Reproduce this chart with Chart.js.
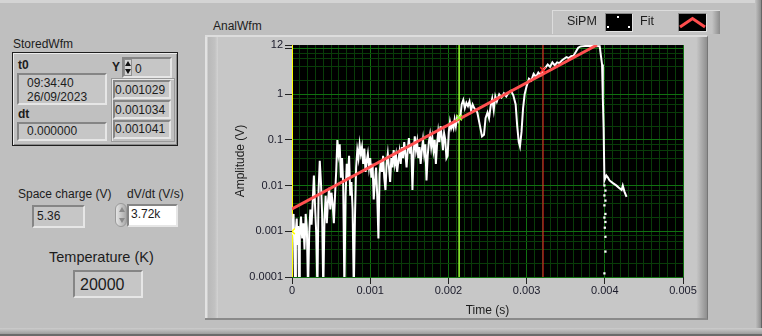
<!DOCTYPE html>
<html><head><meta charset="utf-8">
<script src="https://cdn.jsdelivr.net/npm/chart.js@4/dist/chart.umd.min.js"></script>
<style>
html,body{margin:0;padding:0;}
body{width:762px;height:336px;position:relative;overflow:hidden;background:#bfbfbf;font-family:"Liberation Sans",Arial,sans-serif;color:#1c1c1c;}
.a{position:absolute;box-sizing:border-box;}
.t{position:absolute;font-size:12px;line-height:1.15;white-space:nowrap;}
.b{font-weight:bold;}
.rec{position:absolute;box-sizing:border-box;border-top:2px solid #858585;border-left:2px solid #858585;border-bottom:2px solid #e6e6e6;border-right:2px solid #e6e6e6;background:#c6c6c6;}
.tri-up{width:0;height:0;border-left:3px solid transparent;border-right:3px solid transparent;border-bottom:5px solid #111;position:absolute;}
.tri-dn{width:0;height:0;border-left:3px solid transparent;border-right:3px solid transparent;border-top:5px solid #111;position:absolute;}
canvas{position:absolute;left:0;top:0;z-index:2;}
</style>
</head><body>
<!-- window frame -->
<div class="a" style="left:0;top:0;width:762px;height:3px;background:#d4d4d4;"></div>
<div class="a" style="left:755px;top:0;width:7px;height:336px;background:linear-gradient(to right,#c4c4c4,#8e8e8e);border-right:1px solid #666;"></div>
<div class="a" style="left:0;top:328px;width:762px;height:8px;background:linear-gradient(to bottom,#cdcdcd,#9c9c9c);border-bottom:2px solid #6a6a6a;"></div>

<!-- graph frame -->
<div class="a" style="left:205px;top:35px;width:503px;height:285px;background:#c7c7c7;border-top:2px solid #dddddd;border-bottom:2px solid #8a8a8a;border-right:1px solid #777;">
  <div class="a" style="left:0;top:0;width:13px;height:100%;background:linear-gradient(to right,#e2e2e2 0,#e2e2e2 2px,#b9b9b9 3px,#c2c2c2 10px,#d3d3d3 13px);"></div>
  <div class="a" style="right:0;top:0;width:11px;height:100%;background:linear-gradient(to right,#c9c9c9,#8f8f8f);"></div>
</div>
<div class="t" style="left:213px;top:19.5px;">AnalWfm</div>

<!-- legend -->
<div class="a" style="left:552px;top:10px;width:168px;height:24px;background:#c3c3c3;border-top:1px solid #dcdcdc;border-left:1px solid #dcdcdc;">
  <div class="a" style="right:0;top:0;width:8px;height:100%;background:linear-gradient(to right,#c3c3c3,#8c8c8c);"></div>
</div>
<div class="t" style="left:567px;top:13.5px;font-size:12.5px;z-index:3;">SiPM</div>
<div class="a" style="left:605px;top:13px;width:28px;height:19px;background:#000;border-top:1px solid #8a8a8a;border-left:1px solid #8a8a8a;border-bottom:1px solid #e2e2e2;border-right:1px solid #e2e2e2;z-index:3;">
  <div class="a" style="left:11px;top:1.5px;width:2px;height:2px;background:#fff;"></div>
  <div class="a" style="left:1px;top:11.5px;width:2px;height:2px;background:#fff;"></div>
  <div class="a" style="left:21.5px;top:11.5px;width:2px;height:2px;background:#fff;"></div>
</div>
<div class="t" style="left:640px;top:13.5px;font-size:12.5px;z-index:3;">Fit</div>
<div class="a" style="left:678px;top:13px;width:29px;height:19px;background:#000;border-top:1px solid #8a8a8a;border-left:1px solid #8a8a8a;border-bottom:1px solid #e2e2e2;border-right:1px solid #e2e2e2;z-index:3;overflow:hidden;">
  <svg width="27" height="17" style="position:absolute;left:0;top:0;"><polyline points="1,13 13.5,4.5 26,13" fill="none" stroke="#ff4d4d" stroke-width="3"/></svg>
</div>

<!-- StoredWfm cluster -->
<div class="t" style="left:13px;top:37.5px;">StoredWfm</div>
<div class="a" style="left:12px;top:52px;width:166px;height:94px;background:#c0c0c0;border:1px solid #1e1e1e;box-shadow:inset 1px 1px 0 #ececec, inset -1px -1px 0 #8a8a8a;"></div>
<div class="t b" style="left:18px;top:59.2px;">t0</div>
<div class="rec" style="left:17px;top:73px;width:90px;height:32px;"></div>
<div class="t" style="left:27px;top:76.8px;">09:34:40</div>
<div class="t" style="left:27px;top:90.8px;">26/09/2023</div>
<div class="t b" style="left:18px;top:107.5px;">dt</div>
<div class="rec" style="left:17px;top:122px;width:90px;height:19px;"></div>
<div class="t" style="left:27px;top:124.8px;">0.000000</div>

<div class="t b" style="left:112px;top:60.8px;">Y</div>
<div class="rec" style="left:122px;top:57px;width:50px;height:21px;"></div>
<div class="a" style="left:124px;top:59px;width:8px;height:17px;background:#d4d4d4;border:1px solid #909090;">
  <div class="tri-up" style="left:0px;top:1px;"></div>
  <div class="tri-dn" style="left:0px;top:9px;"></div>
</div>
<div class="t" style="left:135px;top:62.5px;">0</div>
<div class="a" style="left:111px;top:78px;width:64px;height:64px;border:1px solid #9a9a9a;box-shadow:inset 1px 1px 0 #e8e8e8;"></div>
<div class="rec" style="left:113px;top:80px;width:58px;height:19px;"></div>
<div class="rec" style="left:113px;top:100px;width:58px;height:19px;"></div>
<div class="rec" style="left:113px;top:120px;width:58px;height:19px;"></div>
<div class="t" style="left:115px;top:84.2px;">0.001029</div>
<div class="t" style="left:115px;top:103.5px;">0.001034</div>
<div class="t" style="left:115px;top:122.5px;">0.001041</div>

<!-- indicators -->
<div class="t" style="left:18px;top:188.2px;">Space charge (V)</div>
<div class="rec" style="left:32px;top:205px;width:53px;height:23px;"></div>
<div class="t" style="left:37px;top:210.2px;">5.36</div>
<div class="t" style="left:127px;top:188.2px;">dV/dt (V/s)</div>
<div class="a" style="left:115px;top:203px;width:12px;height:24px;border-radius:6px;background:linear-gradient(to right,#e4e4e4,#a9a9a9);border:1px solid #9a9a9a;">
  <div class="a" style="left:2.5px;top:3px;width:0;height:0;border-left:3px solid transparent;border-right:3px solid transparent;border-bottom:5px solid #8a8a8a;"></div>
  <div class="a" style="left:2.5px;top:14px;width:0;height:0;border-left:3px solid transparent;border-right:3px solid transparent;border-top:5px solid #8a8a8a;"></div>
</div>
<div class="rec" style="left:127px;top:204px;width:51px;height:23px;background:#ffffff;"></div>
<div class="t" style="left:131px;top:208.2px;">3.72k</div>
<div class="t" style="left:49px;top:248.7px;font-size:14.5px;">Temperature (K)</div>
<div class="rec" style="left:73px;top:270px;width:70px;height:28px;"></div>
<div class="t" style="left:80px;top:276px;font-size:16px;">20000</div>

<canvas id="c" width="762" height="336"></canvas>
<script>
// ---- data ----
const xTickLabels = ['0', '0.001', '0.002', '0.003', '0.004', '0.005'];
const yTickLabels = ['0.0001', '0.001', '0.01', '0.1', '1', '12'];
const yMinorMultipliers = [2, 4, 6, 8];

const sipmTime = [
0.000000,0.000010,0.000020,0.000030,0.000040,0.000050,0.000060,0.000070,0.000080,0.000090,
0.000100,0.000115,0.000130,0.000145,0.000160,0.000175,0.000190,0.000205,0.000220,0.000235,
0.000250,0.000265,0.000280,0.000295,0.000310,0.000325,0.000340,0.000355,0.000370,0.000385,
0.000400,0.000415,0.000430,0.000445,0.000460,0.000475,0.000490,0.000505,0.000520,0.000535,
0.000550,0.000565,0.000580,0.000595,0.000610,0.000625,0.000640,0.000655,0.000670,0.000685,
0.000700,0.000715,0.000730,0.000745,0.000760,0.000775,0.000790,0.000805,0.000820,0.000835,
0.000850,0.000865,0.000880,0.000895,0.000910,0.000925,0.000940,0.000955,0.000970,0.000985,
0.001000,0.001015,0.001030,0.001045,0.001060,0.001075,0.001090,0.001105,0.001120,0.001135,
0.001150,0.001165,0.001180,0.001195,0.001210,0.001225,0.001240,0.001255,0.001270,0.001285,
0.001300,0.001315,0.001330,0.001345,0.001360,0.001375,0.001390,0.001405,0.001420,0.001435,
0.001450,0.001465,0.001480,0.001495,0.001510,0.001525,0.001540,0.001555,0.001570,0.001585,
0.001600,0.001615,0.001630,0.001645,0.001660,0.001675,0.001690,0.001705,0.001720,0.001735,
0.001750,0.001765,0.001780,0.001795,0.001810,0.001825,0.001840,0.001855,0.001870,0.001885,
0.001900,0.001915,0.001930,0.001945,0.001960,0.001975,0.001990,0.002005,0.002020,0.002035,
0.002050,0.002065,0.002080,0.002095,0.002110,0.002125,0.002140,0.002155,0.002170,0.002190,
0.002210,0.002230,0.002250,0.002270,0.002290,0.002310,0.002330,0.002370,0.002400,0.002430,
0.002455,0.002475,0.002500,0.002520,0.002540,0.002560,0.002580,0.002600,0.002620,0.002650,
0.002680,0.002710,0.002740,0.002770,0.002800,0.002830,0.002860,0.002880,0.002900,0.002915,
0.002935,0.002955,0.002975,0.003000,0.003030,0.003060,0.003090,0.003120,0.003150,0.003180,
0.003210,0.003240,0.003270,0.003300,0.003330,0.003360,0.003390,0.003420,0.003450,0.003480,
0.003510,0.003540,0.003570,0.003600,0.003630,0.003660,0.003690,0.003750,0.003850,0.003935,
0.003950,0.003965,0.003975,0.003985,0.003995,0.004020,0.004040,0.004060,0.004100,0.004150,
0.004180,0.004215,0.004230,0.004250,0.004278
];
const sipmAmp = [
0.0009,0.0016,0.0024,0.0004,0.00005,0.0011,0.0019,0.0005,0.0013,0.00005,
0.0008,0.0021,0.0007,0.0015,0.0004,0.0024,0.0012,0.00005,0.0009,0.0030,
0.0014,0.0045,0.0166,0.0035,0.0009,0.00005,0.0080,0.0350,0.0120,0.0025,
0.00005,0.0018,0.0060,0.0015,0.0045,0.0090,0.0030,0.0070,0.0040,0.0015,
0.0060,0.0200,0.1000,0.0500,0.0800,0.0150,0.0400,0.0100,0.00005,0.0060,
0.0300,0.0150,0.0450,0.0060,0.0120,0.0030,0.00005,0.0020,0.0250,0.0600,
0.0400,0.0800,0.0500,0.0700,0.0300,0.0650,0.0200,0.0350,0.0500,0.0250,
0.0400,0.0150,0.0300,0.0050,0.0120,0.0250,0.0060,0.0007,0.0180,0.0350,
0.0200,0.0450,0.0150,0.0080,0.0300,0.0500,0.0250,0.0120,0.0400,0.0250,
0.0600,0.0300,0.0450,0.0200,0.0350,0.0550,0.0300,0.0700,0.0400,0.0900,
0.0500,0.0250,0.0600,0.1100,0.0500,0.0800,0.0080,0.0500,0.1200,0.0600,
0.0900,0.0400,0.0700,0.0300,0.0600,0.1000,0.0500,0.0800,0.0130,0.0450,
0.0900,0.1300,0.0700,0.1100,0.0600,0.1000,0.0300,0.0800,0.1500,0.0900,
0.2000,0.1200,0.0600,0.1400,0.1000,0.0400,0.0450,0.1500,0.2500,0.1800,
0.2200,0.1800,0.2800,0.2000,0.3000,0.2600,0.3200,0.3500,0.6000,0.7500,
0.5000,0.6500,0.5500,0.7000,0.4500,0.6000,0.5000,0.4000,0.2200,0.1200,
0.1300,0.3000,0.4000,0.3000,0.5500,0.8000,0.4500,0.9000,0.7000,1.0000,
0.8500,1.0500,0.9000,1.1000,1.2000,0.9500,0.6000,0.2000,0.0900,0.0720,
0.1500,0.5000,1.0000,1.5000,2.2000,2.0000,2.8000,2.4000,3.0000,2.6000,
3.4000,3.8000,4.5000,4.0000,5.0000,4.3000,5.0000,4.8000,5.5000,6.0000,
6.5000,6.2000,6.8000,7.0000,8.5000,10.500,11.200,11.400,11.400,11.300,
7.0000,4.5000,0.8000,0.1800,0.0130,0.0167,0.0150,0.0130,0.0115,0.0100,
0.0090,0.0080,0.0100,0.0075,0.0057
];
// separated samples on the falling edge near 4 ms
const sipmEdgeTime = [0.003995,0.004008,0.003995,0.004008,0.003995,0.004008,0.003995,0.004008,0.004000,0.004008,0.004008,0.003995];
const sipmEdgeAmp  = [0.0101,0.0078,0.0061,0.0047,0.0037,0.0024,0.0020,0.0016,0.0012,0.00076,0.00036,0.00012];

const fitTime = [0, 0.0039];
const fitAmp  = [0.0031, 12];

const cursorTime = [0, 0.002137, 0.00321];
const cursorAmp  = [0.001, 0.31, 3.4];

// ---- styles ----
const cursorColors = ['#ffff00', '#99ff33', '#ff2a2a'];
const cursorWidths = [2, 1.5, 1];
const majorGrid = 'rgb(16,112,16)';
const minorGrid = 'rgb(9,60,9)';
const tickText = '#1a1a2a';

const xy = (xs, ys) => xs.map((x, i) => ({x: x, y: ys[i]}));
const xMajor = xTickLabels.map(Number);
const yMajor = yTickLabels.map(Number);
const yMin = yMajor[0], yMax = yMajor[yMajor.length - 1];

function buildXTicks() {
  const out = [];
  for (let i = 0; i < xMajor.length; i++) {
    out.push({value: xMajor[i], mj: true, lbl: xTickLabels[i]});
    if (i < xMajor.length - 1) {
      const step = (xMajor[i + 1] - xMajor[i]) / 10;
      for (let k = 1; k < 10; k++) out.push({value: xMajor[i] + k * step, mj: false, lbl: ''});
    }
  }
  return out;
}
function buildYTicks() {
  const out = [];
  for (let i = 0; i < yMajor.length - 1; i++) {
    const d = yMajor[i];
    out.push({value: d, mj: true, lbl: yTickLabels[i]});
    yMinorMultipliers.forEach(m => out.push({value: d * m, mj: false, lbl: ''}));
  }
  out.push({value: yMajor[yMajor.length - 2] * 10, mj: true, lbl: ''});
  out.push({value: yMax, mj: true, edge: true, lbl: yTickLabels[yTickLabels.length - 1]});
  return out;
}

const datasets = [];
datasets.push({
  label: 'Cursor markers', data: xy(cursorTime, cursorAmp), showLine: false,
  pointStyle: 'crossRot', pointRadius: 4, pointBorderWidth: 1.5,
  pointBorderColor: cursorColors, pointBackgroundColor: cursorColors, clip: 0
});
datasets.push({
  label: 'Fit', data: xy(fitTime, fitAmp), showLine: true, borderColor: '#ff5050',
  borderWidth: 3, pointRadius: 0, clip: 0
});
datasets.push({
  label: 'SiPM', data: xy(sipmTime, sipmAmp), showLine: true, borderColor: '#ffffff',
  borderWidth: 2, pointRadius: 0, clip: 0, borderJoinStyle: 'miter'
});
datasets.push({
  label: 'SiPM edge', data: xy(sipmEdgeTime, sipmEdgeAmp), showLine: false,
  pointStyle: 'rect', pointRadius: 1.6, pointBorderWidth: 0,
  pointBackgroundColor: '#ffffff', clip: 0
});
cursorTime.forEach((t, i) => datasets.push({
  label: 'Cursor ' + i, data: [{x: t, y: yMin}, {x: t, y: yMax}], showLine: true,
  borderColor: cursorColors[i], borderWidth: cursorWidths[i], pointRadius: 0, clip: 0
}));

const plotBg = {
  id: 'plotBg',
  beforeDraw(chart) {
    const a = chart.chartArea, c = chart.ctx;
    c.save(); c.fillStyle = '#000'; c.fillRect(a.left, a.top, a.right - a.left, a.bottom - a.top); c.restore();
  }
};

new Chart(document.getElementById('c'), {
  type: 'scatter',
  data: {datasets: datasets},
  options: {
    responsive: false, animation: false, devicePixelRatio: 1,
    layout: {padding: {left: 205, top: 45, right: 79, bottom: 18}},
    plugins: {legend: {display: false}, tooltip: {enabled: false}},
    scales: {
      x: {
        type: 'linear', min: 0, max: 0.005,
        afterBuildTicks: s => { s.ticks = buildXTicks(); },
        afterFit: s => { s.height = 41; },
        ticks: {autoSkip: false, maxRotation: 0, padding: 0, color: tickText,
          font: {family: 'Liberation Sans', size: 11},
          callback: (v, i, t) => t[i].lbl},
        grid: {
          color: c => (c.tick && c.tick.mj) ? majorGrid : minorGrid,
          tickColor: c => (c.tick && c.tick.mj) ? '#222' : 'rgba(0,0,0,0)',
          tickLength: 7, lineWidth: 1
        },
        border: {display: false},
        title: {display: true, text: 'Time (s)', color: '#1c1c1c',
          font: {family: 'Liberation Sans', size: 12}, padding: {top: 0, bottom: 0}}
      },
      y: {
        type: 'logarithmic', min: yMin, max: yMax,
        afterBuildTicks: s => { s.ticks = buildYTicks(); },
        afterFit: s => { s.width = 87; },
        ticks: {autoSkip: false, padding: 2, color: tickText,
          font: {family: 'Liberation Sans', size: 11},
          callback: (v, i, t) => t[i].lbl},
        grid: {
          color: c => (c.tick && c.tick.mj && !c.tick.edge) ? majorGrid : (c.tick && c.tick.edge ? 'rgba(0,0,0,0)' : minorGrid),
          tickColor: c => (c.tick && c.tick.mj) ? '#222' : 'rgba(0,0,0,0)',
          tickLength: 7, lineWidth: 1
        },
        border: {display: false},
        title: {display: true, text: 'Amplitude (V)', color: '#1c1c1c',
          font: {family: 'Liberation Sans', size: 12}, padding: {top: 28, bottom: 0}}
      }
    }
  },
  plugins: [plotBg]
});
</script>
</body></html>
